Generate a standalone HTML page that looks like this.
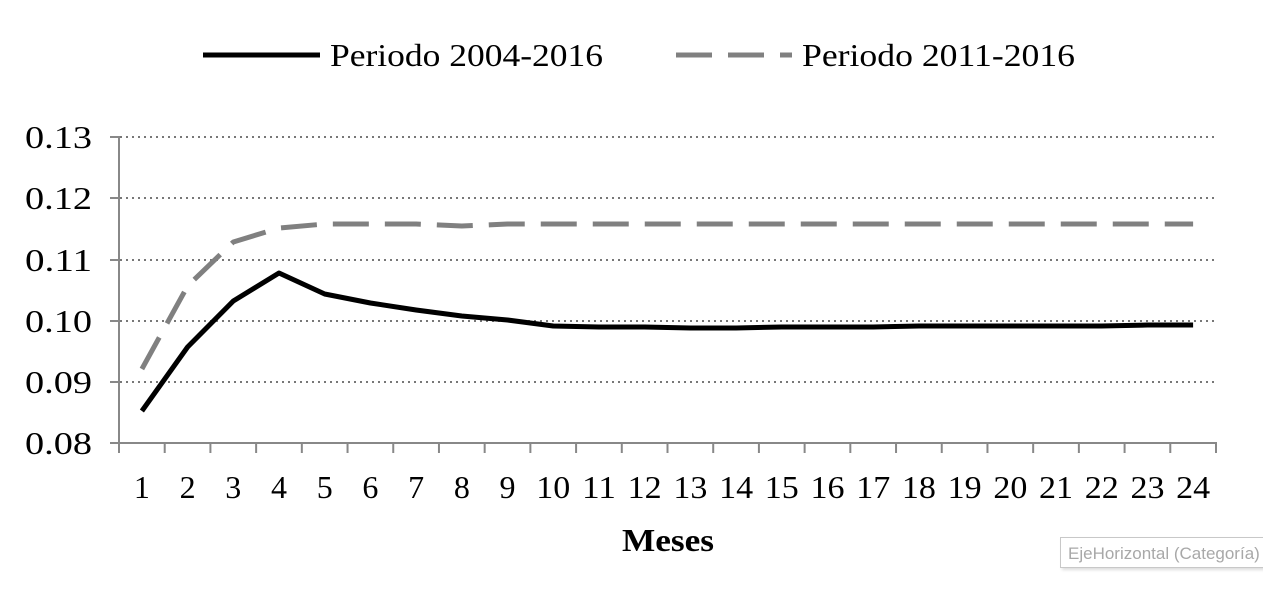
<!DOCTYPE html>
<html><head><meta charset="utf-8"><style>
html,body{margin:0;padding:0;background:#fff;}
body{width:1263px;height:612px;overflow:hidden;position:relative;}
.tip{position:absolute;left:1060px;top:537px;width:210px;height:31px;border:1px solid #c8c8c8;box-shadow:2px 2px 3px #ddd;background:#fff;font-family:"Liberation Sans",sans-serif;font-size:17px;color:#a8a8a8;line-height:31px;padding-left:7px;white-space:nowrap;overflow:hidden;box-sizing:border-box;}
</style></head><body>
<svg width="1263" height="612" xmlns="http://www.w3.org/2000/svg" style="position:absolute;left:0;top:0">
<g font-family="Liberation Serif, serif" font-size="32" fill="#000">
<line x1="203" y1="55" x2="320" y2="55" stroke="#000" stroke-width="5"/>
<text x="330" y="66" textLength="273" lengthAdjust="spacingAndGlyphs">Periodo 2004-2016</text>
<line x1="676" y1="55" x2="792" y2="55" stroke="#808080" stroke-width="5" stroke-dasharray="36,16"/>
<text x="802" y="66" textLength="273" lengthAdjust="spacingAndGlyphs">Periodo 2011-2016</text>
</g>
<g stroke="#777" stroke-width="2" stroke-dasharray="2,4">
<line x1="120" y1="137" x2="1216" y2="137"/>
<line x1="120" y1="198" x2="1216" y2="198"/>
<line x1="120" y1="260" x2="1216" y2="260"/>
<line x1="120" y1="321" x2="1216" y2="321"/>
<line x1="120" y1="382" x2="1216" y2="382"/>
</g>
<g stroke="#888" stroke-width="2">
<line x1="119" y1="136" x2="119" y2="444"/>
<line x1="110" y1="137" x2="119" y2="137"/>
<line x1="110" y1="198" x2="119" y2="198"/>
<line x1="110" y1="260" x2="119" y2="260"/>
<line x1="110" y1="321" x2="119" y2="321"/>
<line x1="110" y1="382" x2="119" y2="382"/>
<line x1="110" y1="443" x2="1217" y2="443"/>
</g>
<g id="ticks" stroke="#888" stroke-width="2"></g>
<g font-family="Liberation Serif, serif" font-size="32" fill="#000">
<text x="25" y="148" textLength="67" lengthAdjust="spacingAndGlyphs">0.13</text>
<text x="25" y="209" textLength="67" lengthAdjust="spacingAndGlyphs">0.12</text>
<text x="25" y="271" textLength="67" lengthAdjust="spacingAndGlyphs">0.11</text>
<text x="25" y="332" textLength="67" lengthAdjust="spacingAndGlyphs">0.10</text>
<text x="25" y="393" textLength="67" lengthAdjust="spacingAndGlyphs">0.09</text>
<text x="25" y="454" textLength="67" lengthAdjust="spacingAndGlyphs">0.08</text>
</g>
<g id="xl" font-family="Liberation Serif, serif" font-size="32" fill="#000"></g>
<text x="622" y="551" font-family="Liberation Serif, serif" font-size="32" font-weight="bold" textLength="92" lengthAdjust="spacingAndGlyphs">Meses</text>
<polyline id="g" fill="none" stroke="#808080" stroke-width="5" stroke-dasharray="36,16" stroke-linejoin="round"/>
<polyline id="b" fill="none" stroke="#000" stroke-width="5" stroke-linejoin="round"/>
</svg>
<div class="tip">EjeHorizontal (Categoría)</div>
<script>
var w=(1216-119)/24, ns="http://www.w3.org/2000/svg";
var t=document.getElementById('ticks'), xl=document.getElementById('xl');
for(var i=0;i<=24;i++){var l=document.createElementNS(ns,'line');var x=119+w*i;l.setAttribute('x1',x);l.setAttribute('x2',x);l.setAttribute('y1',443);l.setAttribute('y2',453);t.appendChild(l);}
for(var i=1;i<=24;i++){var tx=document.createElementNS(ns,'text');var tw=i<10?16:34;tx.setAttribute('x',119+w*(i-0.5)-tw/2);tx.setAttribute('y',498);tx.setAttribute('textLength',tw);tx.setAttribute('lengthAdjust','spacingAndGlyphs');tx.textContent=i;xl.appendChild(tx);}
var b=[411,347,301,273,294,303,310,316,320,326,327,327,328,328,327,327,327,326,326,326,326,326,325,325];
var g=[369,286,242,228,224,224,224,226,224,224,224,224,224,224,224,224,224,224,224,224,224,224,224,224];
function pts(a){return a.map(function(y,i){return (119+w*(i+0.5)).toFixed(1)+','+y}).join(' ');}
document.getElementById('b').setAttribute('points',pts(b));
document.getElementById('g').setAttribute('points',pts(g));
</script>
</body></html>
